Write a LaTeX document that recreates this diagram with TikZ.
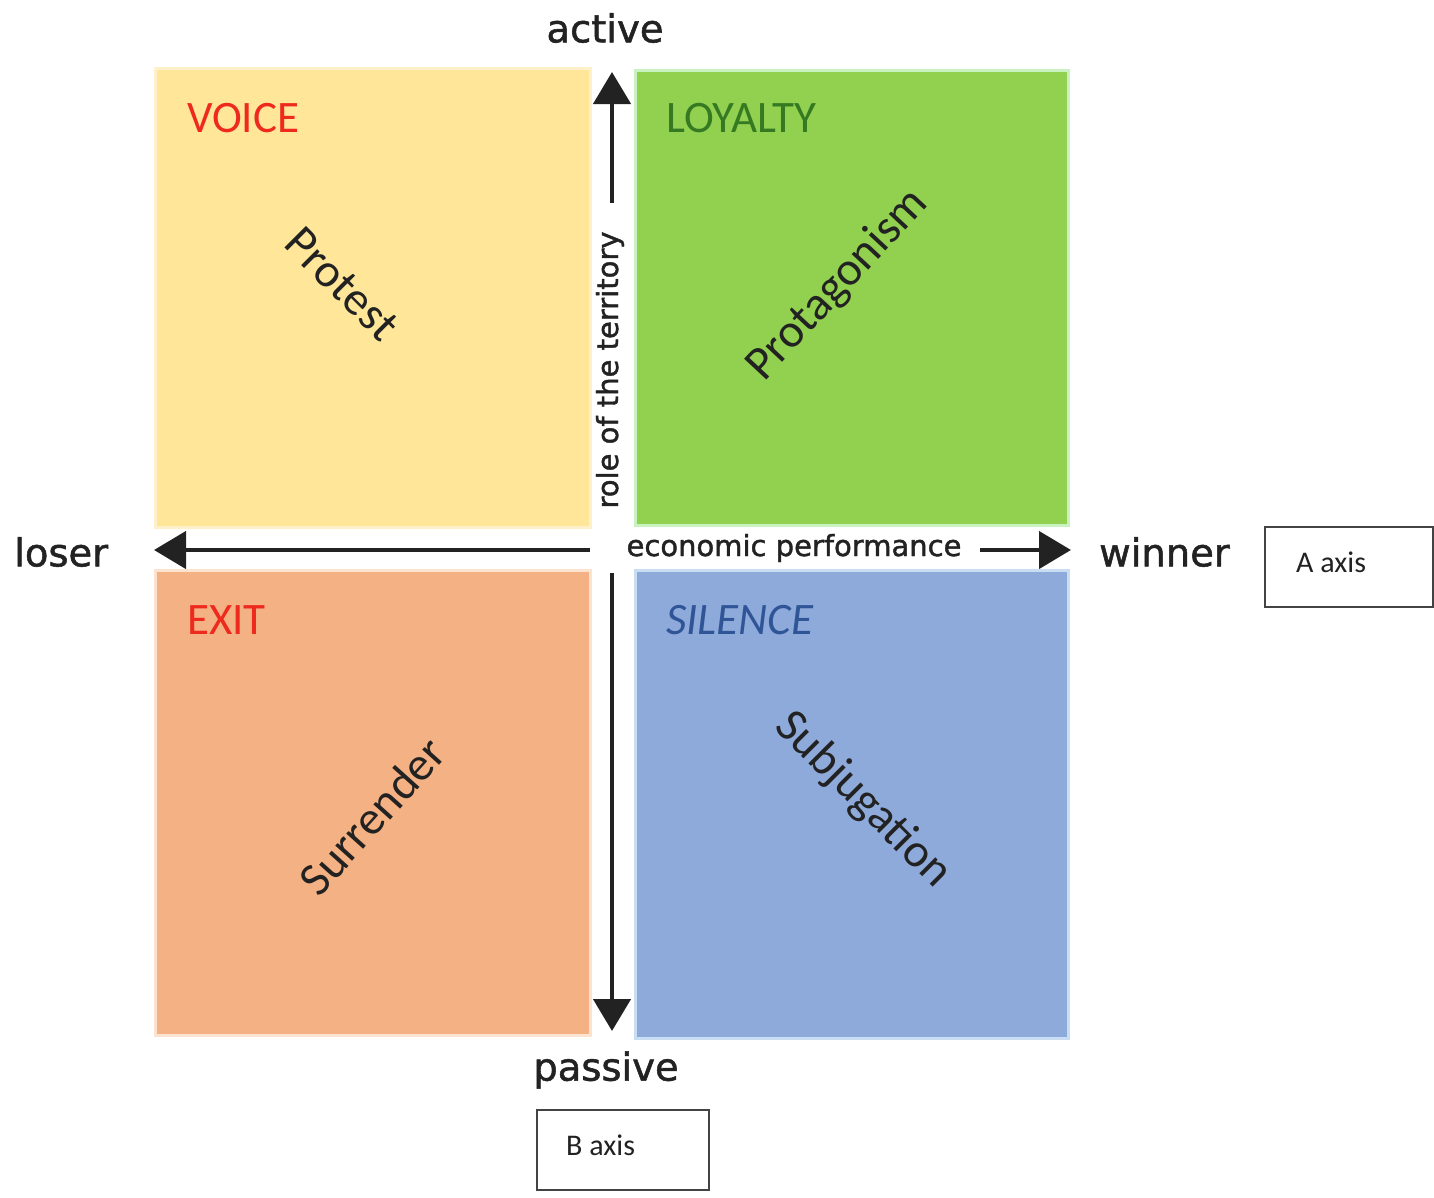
\documentclass[tikz,border=0pt]{standalone}
\usepackage{fontspec}
\setmainfont{Carlito}
\newfontfamily\axisfont{DejaVu Sans}[BoldFont={DejaVu Sans}, BoldFeatures={FakeBold=1.4}]
\usetikzlibrary{arrows.meta}

\definecolor{voicefill}{HTML}{FFE699}
\definecolor{voiceedge}{HTML}{FFF0CC}
\definecolor{loyalfill}{HTML}{92D050}
\definecolor{loyaledge}{HTML}{C8F2C0}
\definecolor{exitfill}{HTML}{F4B183}
\definecolor{exitedge}{HTML}{FBE3CF}
\definecolor{silencefill}{HTML}{8EAADB}
\definecolor{silenceedge}{HTML}{C9DDF3}
\definecolor{titlered}{HTML}{EE2A1E}
\definecolor{titlegreen}{HTML}{357A22}
\definecolor{titleblue}{HTML}{2F5597}
\definecolor{ink}{HTML}{222222}

\tikzset{
  quad/.style={line width=3pt},
  qtitle/.style={anchor=base west, inner sep=0pt, font=\fontsize{45}{50}\selectfont},
  diag/.style={inner sep=0pt, text=ink, font=\fontsize{47.5}{52}\selectfont},
  pole/.style={inner sep=0pt, text=ink, font=\axisfont\bfseries\fontsize{38.5}{44}\selectfont},
  axistitle/.style={inner sep=0pt, text=ink, font=\axisfont\bfseries\fontsize{29}{34}\selectfont},
  axisline/.style={draw=ink, line width=4.5pt, -{Triangle[length=32pt,width=37pt]}},
  tagbox/.style={draw=ink!85, line width=2.5pt, fill=white},
  tagtext/.style={inner sep=0pt, text=ink, font=\fontsize{30}{34}\selectfont},
}

\begin{document}
\begin{tikzpicture}[x=1pt, y=-1pt]
  \useasboundingbox (0,0) rectangle (1434,1197);

  % four quadrants
  \filldraw[quad, fill=voicefill,   draw=voiceedge]   (155,68)  rectangle (590,527);
  \filldraw[quad, fill=loyalfill,   draw=loyaledge]   (635,70)  rectangle (1068,525);
  \filldraw[quad, fill=exitfill,    draw=exitedge]    (155,570) rectangle (590,1035);
  \filldraw[quad, fill=silencefill, draw=silenceedge] (635,570) rectangle (1068,1038);

  % quadrant titles
  \node[qtitle, text=titlered]   (voice)   at (187,132) {VOICE};
  \node[qtitle, text=titlegreen] (loyalty) at (666,132) {LOYALTY};
  \node[qtitle, text=titlered]   (exit)    at (187,634) {EXIT};
  \node[qtitle, text=titleblue, font=\fontsize{45}{50}\selectfont\itshape] (silence) at (666,634) {SILENCE};

  % diagonal labels
  \node[diag, rotate=-45] (protest)     at (342,284) {Protest};
  \node[diag, rotate=47]  (protagonism) at (838,285) {Protagonism};
  \node[diag, rotate=48]  (surrender)   at (372,816) {Surrender};
  \node[diag, rotate=-45] (subjugation) at (863,800) {Subjugation};

  % axis titles
  \node[axistitle, rotate=90] (role) at (610,370) {role of the territory};
  \node[axistitle] (econ) at (794,548) {economic performance};

  % axis end points
  \coordinate (vtop)   at (612,72);
  \coordinate (vrole)  at (612,203);
  \coordinate (vlow)   at (612,573);
  \coordinate (vbot)   at (612,1031);
  \coordinate (hleft)  at (154,550);
  \coordinate (hmid)   at (590,550);
  \coordinate (hecon)  at (980,550);
  \coordinate (hright) at (1071,550);

  \draw[axisline] (vrole) -- (vtop);
  \draw[axisline] (vlow)  -- (vbot);
  \draw[axisline] (hmid)  -- (hleft);
  \draw[axisline] (hecon) -- (hright);

  % poles
  \node[pole] (active)  at (605,28)   {active};
  \node[pole] (passive) at (606,1070) {passive};
  \node[pole, anchor=west] (loser)  at (14,552)   {loser};
  \node[pole, anchor=west] (winner) at (1099,552) {winner};

  % axis tags
  \draw[tagbox] (1265,527) rectangle (1433,607);
  \node[tagtext, anchor=west] (aaxis) at (1296,562) {A axis};
  \draw[tagbox] (537,1110) rectangle (709,1190);
  \node[tagtext, anchor=west] (baxis) at (566,1145) {B axis};
\end{tikzpicture}
\end{document}
